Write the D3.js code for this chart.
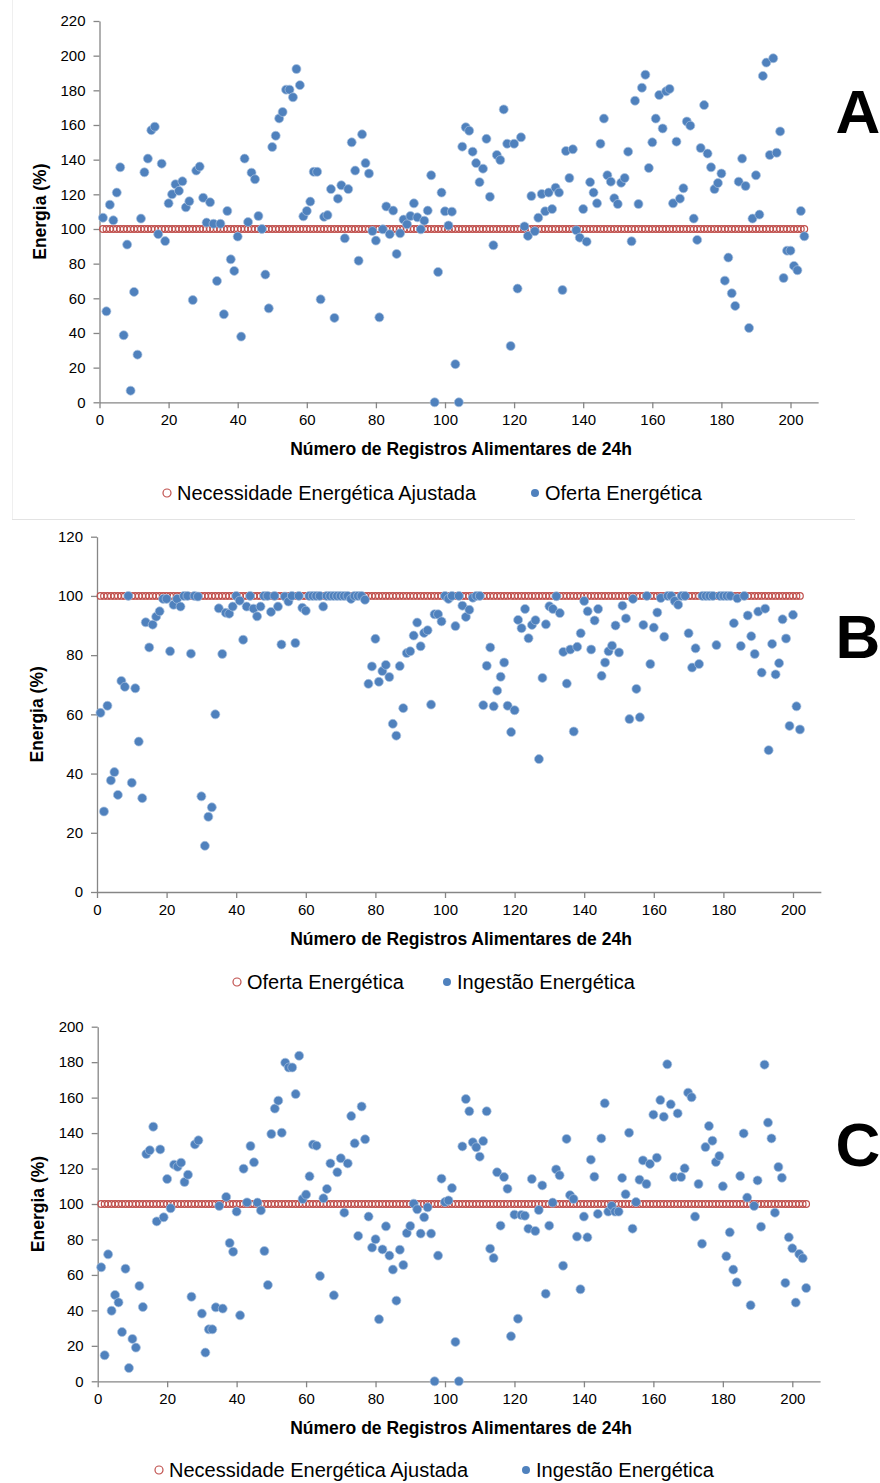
<!DOCTYPE html>
<html>
<head>
<meta charset="utf-8">
<script src="https://cdn.jsdelivr.net/npm/d3@7"></script>
<style>
  body { margin: 0; background: #fff; }
  svg text { font-family: "Liberation Sans", Arial, sans-serif; }
</style>
</head>
<body>
<div id="chart"></div>
<script>
// values (energy, % of adjusted need), one per 24h record
var ofertaA = [
  106.5, 52.5, 114, 105, 121, 135.6, 38.7, 91, 6.7, 63.7,
  27.5, 106, 132.7, 140.6, 157, 159, 97, 137.7, 93, 114.8,
  120, 125.8, 122, 127.5, 112.5, 116, 59, 133.7, 136, 118,
  103.7, 115.4, 103, 70, 103, 50.8, 110.4, 82.5, 75.8, 95.6,
  37.9, 140.6, 104, 132.5, 128.7, 107.5, 100, 73.7, 54.2, 147.3,
  153.8, 163.8, 167.5, 180.4, 180.4, 176, 192.3, 183, 107.3, 110.4,
  115.8, 133, 133, 59.4, 107, 108, 123, 48.7, 117.5, 125.2,
  94.6, 123, 150, 133.7, 81.7, 154.6, 138, 132, 98.8, 93.3,
  49, 99.8, 113, 97, 110.6, 85.6, 97.5, 105.4, 102.7, 107.5,
  114.8, 106.7, 99.8, 104.8, 110.6, 131, 0, 75.2, 121, 110.2,
  102, 110, 22, 0, 147.5, 158.7, 156.7, 144.6, 138, 127,
  134.8, 152, 118.6, 90.6, 142.7, 139.8, 169, 149.2, 32.5, 149.2,
  65.6, 152.9, 101.5, 96, 119, 98.7, 106.5, 120.2, 110.2, 121,
  111.5, 123.8, 121, 64.8, 145, 129.4, 146, 99.2, 95, 111.5,
  92.7, 127, 121, 114.8, 149.2, 163.7, 131, 127.3, 117.7, 114.4,
  126.7, 129.4, 144.6, 92.9, 174, 114.4, 181.5, 189, 135.2, 150,
  163.7, 177.3, 158, 179.4, 180.8, 114.8, 150.4, 117.5, 123.5, 162,
  159.6, 106, 93.7, 146.7, 171.5, 143.5, 135.6, 123, 126.5, 132,
  70.2, 83.5, 62.9, 55.6, 127.3, 140.6, 124.8, 42.9, 106, 131,
  108.3, 188.3, 196, 142.7, 198.5, 144, 156.3, 71.7, 87.5, 87.5,
  78.7, 76.2, 110.4, 95.8
];

var ingestaoB = [
  60.5, 27.2, 62.9, 37.7, 40.5, 32.8, 71.3, 69.3, 100, 36.9,
  68.8, 50.8, 31.7, 91.1, 82.6, 90.3, 93, 94.8, 99, 99,
  81.3, 97, 99, 96.4, 100, 100, 80.5, 100, 99.8, 32.3,
  15.6, 25.4, 28.6, 60, 95.8, 80.4, 94.3, 94, 96.4, 100,
  98.4, 85.2, 96.4, 100, 95.7, 93.1, 96.4, 100, 100, 94.6,
  100, 96.4, 83.6, 99.8, 98.1, 100, 84.1, 100, 96, 95,
  100, 100, 100, 100, 96.4, 100, 100, 100, 100, 100,
  100, 100, 99, 100, 100, 100, 98.7, 70.3, 76.2, 85.5,
  71, 74.6, 76.7, 72.6, 56.8, 52.8, 76.3, 62.1, 80.7, 81.3,
  86.6, 91, 83, 87.5, 88.4, 63.3, 93.8, 93.8, 91.4, 100,
  99, 100, 89.8, 100, 96.7, 92.9, 95.3, 99.4, 100, 100,
  63.1, 76.4, 82.6, 62.7, 68, 72.7, 77.5, 62.9, 54, 61.4,
  91.9, 89.1, 95.6, 85.7, 90.2, 91.8, 44.9, 72.3, 90.4, 96.5,
  95.6, 99.9, 94.2, 81.1, 70.4, 81.9, 54.2, 82.8, 87.4, 98.3,
  94.8, 81.9, 91.7, 95.6, 73, 77.5, 81.3, 83.2, 90, 80.9,
  96.7, 92.4, 58.4, 99, 68.6, 59, 90.2, 100, 77, 89.3,
  94.4, 99.3, 86.2, 100, 100, 98.3, 97, 100, 100, 87.4,
  75.8, 82.3, 77, 100, 100, 100, 100, 83.4, 100, 100,
  100, 100, 90.8, 99.2, 83.1, 100, 93.4, 86.4, 80.4, 94.7,
  74.1, 95.7, 47.9, 83.8, 73.5, 77.3, 92.1, 85.6, 56.1, 93.6,
  62.7, 54.9
];

var ingestaoC = [
  64.3, 14.7, 71.6, 39.8, 48.7, 44.5, 27.8, 63.5, 7.5, 23.9,
  19, 53.8, 41.9, 128.2, 130.3, 143.6, 90.2, 130.8, 92.5, 114.1,
  97.6, 122.2, 121, 123.3, 112.4, 116.5, 47.7, 133.6, 135.9, 38.2,
  16.2, 29.3, 29.3, 41.7, 98.9, 41, 104, 78, 73.1, 95.7,
  37.2, 119.9, 100.9, 132.7, 123.5, 100.8, 96.4, 73.5, 54.3, 139.5,
  153.8, 158.3, 140.2, 179.7, 177, 177, 162, 183.6, 102.8, 105.3,
  115.6, 133.5, 132.9, 59.4, 103.2, 108.5, 122.9, 48.5, 117.9, 125.8,
  95.1, 122.9, 149.6, 134.2, 82, 155, 136.5, 92.9, 75.4, 80.1,
  35, 74.4, 87.4, 70.9, 63, 45.5, 74.2, 65.6, 83.6, 87.6,
  100.2, 97, 83.3, 92.5, 98.1, 83.3, 0, 70.9, 114.3, 101.1,
  102, 109, 22.2, 0, 132.5, 159.2, 152.3, 134.8, 132, 126.7,
  135.5, 152.3, 74.8, 69.5, 117.9, 87.8, 115.2, 108.6, 25.4, 94,
  35.3, 93.8, 93.4, 86.1, 114.1, 84.8, 96.6, 110.5, 49.4, 87.8,
  100.8, 119.5, 116.2, 65.2, 136.7, 105, 102.8, 81.6, 51.9, 92.9,
  81.2, 125, 115.4, 94.4, 137, 156.8, 95.7, 98.9, 95.7, 95.7,
  114.7, 105.5, 140.2, 86.1, 101.1, 113.7, 124.6, 111.3, 122.6, 150.4,
  126.1, 158.6, 149.2, 178.8, 156.2, 115.2, 151.1, 115.2, 120.1, 162.8,
  160.2, 92.9, 111.3, 77.6, 132.1, 144, 135.7, 123.7, 127.1, 110,
  70.5, 84, 63, 55.8, 115.8, 139.8, 103.6, 42.9, 98.9, 113.3,
  87.2, 178.6, 145.9, 137, 95.1, 120.9, 114.8, 55.5, 81.2, 75,
  44.4, 71.8, 69.4, 52.6
];

// reference level (adjusted need / offer = 100%)
var nivelRef = 100;

var xTicks = [0, 20, 40, 60, 80, 100, 120, 140, 160, 180, 200];
var yTicksA = [0, 20, 40, 60, 80, 100, 120, 140, 160, 180, 200, 220];
var yTicksB = [0, 20, 40, 60, 80, 100, 120];
var yTicksC = [0, 20, 40, 60, 80, 100, 120, 140, 160, 180, 200];

var xTitle = "Número de Registros Alimentares de 24h";
var yTitle = "Energia (%)";

var red = "#C0504D", blue = "#4F81BD", axisGray = "#868686";

var svg = d3.select("#chart").append("svg")
  .attr("width", 880)
  .attr("height", 1483);

// faint frame around the top panel
svg.append("line").attr("x1", 12).attr("x2", 855).attr("y1", 519.5).attr("y2", 519.5)
  .attr("stroke", "#e3e3e3");
svg.append("line").attr("x1", 12.5).attr("x2", 12.5).attr("y1", 0).attr("y2", 519)
  .attr("stroke", "#efefef");

const drawPanel = (p) => {
  var g = svg.append("g");

  var x = d3.scaleLinear().domain([0, 208]).range([p.x0, p.x0 + 208 * p.xk]);
  var y = d3.scaleLinear().domain([0, p.yMax]).range([p.yBottom, p.yTop]);

  // X axis
  var gx = g.append("g")
    .attr("transform", "translate(0," + p.yBottom + ")")
    .call(d3.axisBottom(x).tickValues(xTicks).tickSize(6).tickPadding(6).tickSizeOuter(0));
  // Y axis
  var gy = g.append("g")
    .attr("transform", "translate(" + p.x0 + ",0)")
    .call(d3.axisLeft(y).tickValues(p.yTicks).tickSize(6).tickPadding(8).tickSizeOuter(0));

  // Customization
  [gx, gy].forEach(function(a) {
    a.select(".domain").attr("stroke", axisGray).attr("stroke-width", 1.3);
    a.selectAll(".tick line").attr("stroke", axisGray).attr("stroke-width", 1.3);
    a.selectAll(".tick text").attr("fill", "#000").style("font-size", "15px")
      .style("font-family", "Liberation Sans, Arial, sans-serif");
  });

  // reference series (open red circles)
  g.append("g").selectAll("circle")
    .data(p.ref)
    .enter().append("circle")
      .attr("cx", function(d, i) { return x(i + 1); })
      .attr("cy", function(d) { return y(d); })
      .attr("r", 3.3)
      .attr("fill", "none")
      .attr("stroke", red)
      .attr("stroke-width", 1.2);

  // blue dots
  g.append("g").selectAll("circle")
    .data(p.values)
    .enter().append("circle")
      .attr("cx", function(d, i) { return x(i + 1); })
      .attr("cy", function(d) { return y(d); })
      .attr("r", 4.5)
      .attr("fill", blue)
      .attr("stroke", "#a9c1e0")
      .attr("stroke-width", 0.7);

  // X axis label
  g.append("text")
    .attr("text-anchor", "middle")
    .attr("x", 461)
    .attr("y", p.yBottom + 53)
    .style("font-size", "17.5px")
    .style("font-weight", "bold")
    .text(xTitle);

  // Y axis label
  g.append("text")
    .attr("text-anchor", "middle")
    .attr("transform", "translate(" + (p.x0 - 54) + "," + ((p.yTop + p.yBottom) / 2) + ") rotate(-90)")
    .style("font-size", "17.5px")
    .style("font-weight", "bold")
    .text(yTitle);

  // legend
  var lg = g.append("g").attr("transform", "translate(0," + p.legY + ")");
  lg.append("circle").attr("cx", p.leg1x - 10).attr("cy", -7).attr("r", 4)
    .attr("fill", "none").attr("stroke", red).attr("stroke-width", 1.2);
  lg.append("text").attr("x", p.leg1x).attr("y", 0).style("font-size", "20px").text(p.leg1);
  lg.append("circle").attr("cx", p.leg2x - 10).attr("cy", -7).attr("r", 4)
    .attr("fill", blue);
  lg.append("text").attr("x", p.leg2x).attr("y", 0).style("font-size", "20px").text(p.leg2);

  // panel letter
  g.append("text")
    .attr("text-anchor", "middle")
    .attr("x", 858)
    .attr("y", p.letterY)
    .style("font-size", "62px")
    .style("font-weight", "bold")
    .text(p.letter);
};

drawPanel({
  values: ofertaA, ref: Array(ofertaA.length).fill(nivelRef),
  x0: 99.5, xk: 3.455, yBottom: 402.3, yTop: 21, yMax: 220, yTicks: yTicksA,
  leg1: "Necessidade Energética Ajustada", leg1x: 177,
  leg2: "Oferta Energética", leg2x: 545, legY: 500,
  letter: "A", letterY: 133
});

drawPanel({
  values: ingestaoB, ref: Array(ingestaoB.length).fill(nivelRef),
  x0: 97, xk: 3.48, yBottom: 892, yTop: 536.7, yMax: 120, yTicks: yTicksB,
  leg1: "Oferta Energética", leg1x: 247,
  leg2: "Ingestão Energética", leg2x: 457, legY: 989,
  letter: "B", letterY: 658
});

drawPanel({
  values: ingestaoC, ref: Array(ingestaoC.length).fill(nivelRef),
  x0: 97.7, xk: 3.473, yBottom: 1381.3, yTop: 1026.7, yMax: 200, yTicks: yTicksC,
  leg1: "Necessidade Energética Ajustada", leg1x: 169,
  leg2: "Ingestão Energética", leg2x: 536, legY: 1477,
  letter: "C", letterY: 1166
});
</script>
</body>
</html>
